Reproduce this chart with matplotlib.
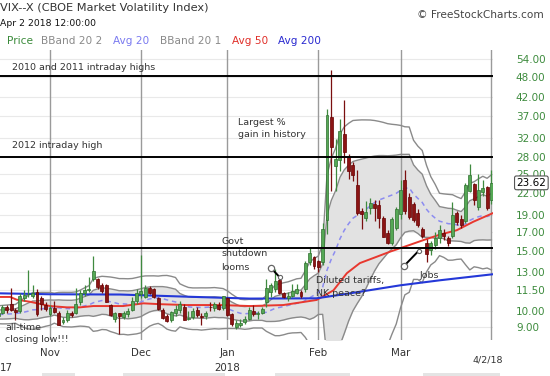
import numpy as np
import pandas as pd
import matplotlib
matplotlib.use("Agg")
import matplotlib.pyplot as plt
from matplotlib.lines import Line2D
from matplotlib.ticker import NullLocator, FixedLocator, FixedFormatter
from matplotlib.transforms import blended_transform_factory

# ---------------- data ----------------
holidays = ["2017-11-23", "2017-12-25", "2018-01-01", "2018-01-15", "2018-02-19", "2018-03-30"]
dates = pd.bdate_range("2017-10-16", "2018-04-02")
dates = dates[~dates.isin(pd.to_datetime(holidays))]

open_ = [9.7, 9.9, 10.3, 10.5, 10.1, 10.0, 10.9, 11.2, 11.05, 11.4, 10.9, 10.4,
         9.8, 10.2, 9.9, 9.3, 9.4, 9.9, 9.9, 10.6, 11.3, 11.5, 12.4, 12.4, 11.9, 11.9, 10.4, 9.5,
         9.9, 9.6, 9.8, 10.1, 10.7,
         11.2, 11.0, 11.7, 11.6, 10.9, 10.1, 9.7, 9.4, 9.9, 10.1, 10.3, 9.5, 9.6, 10.1, 9.7, 9.7,
         10.3, 10.2, 10.4, 10.2,
         10.9, 9.8, 9.0, 9.1, 9.3, 9.5, 10.0, 9.8, 9.9, 10.6, 11.4, 11.6, 12.3, 11.3, 10.9, 11.1,
         11.3, 11.4, 11.6, 13.9, 14.4,
         14.0, 13.9, 18.4, 36.8, 26.5, 27.6, 32.8, 28.0, 26.6, 23.3, 19.5, 18.7, 20.0, 20.5, 20.3,
         18.7, 16.9, 15.8, 17.5,
         19.2, 24.0, 21.5, 20.5, 19.3, 17.3, 15.8, 15.1, 15.6, 16.3, 16.9, 16.3, 16.6, 19.3, 18.6,
         18.3, 22.4, 23.4, 20.1, 22.2, 23.0,
         21.0]
high = [10.1, 10.4, 10.4, 11.7, 10.2, 11.3, 11.5, 13.2, 11.9, 11.6, 11.1, 10.6,
        10.4, 10.7, 10.0, 9.6, 10.1, 10.0, 11.7, 11.5, 11.9, 12.6, 14.51, 12.5, 12.1, 12.0, 10.5, 9.95,
        9.9, 10.0, 10.2, 11.0, 11.6,
        14.58, 11.9, 11.8, 11.7, 11.0, 10.2, 9.8, 10.0, 10.4, 10.7, 10.5, 10.0, 10.2, 10.3, 9.9, 10.0,
        10.6, 10.6, 10.6, 11.1,
        11.0, 9.9, 9.4, 9.5, 9.7, 10.3, 10.4, 10.0, 10.3, 12.4, 12.1, 13.3, 12.4, 11.4, 11.4, 12.0,
        12.0, 11.5, 14.0, 15.3, 14.5,
        14.1, 18.0, 38.8, 50.3, 31.6, 36.2, 41.1, 28.7, 27.2, 25.8, 20.0, 20.9, 21.3, 21.0, 21.0,
        18.9, 17.2, 18.8, 20.1,
        24.1, 25.7, 22.0, 20.8, 19.8, 17.6, 16.2, 16.0, 17.0, 17.8, 17.3, 16.6, 20.8, 19.5, 19.0,
        23.6, 26.8, 23.6, 25.1, 24.1, 23.1,
        25.7]
low = [9.5, 9.8, 9.9, 10.0, 9.4, 9.9, 10.7, 11.0, 10.9, 9.7, 10.1, 10.0,
       9.7, 9.9, 9.1, 9.2, 9.3, 9.6, 9.8, 10.4, 11.1, 11.4, 12.2, 11.6, 11.3, 10.6, 9.7, 9.3,
       8.56, 9.5, 9.6, 10.0, 10.5,
       10.9, 10.9, 11.2, 10.9, 10.1, 9.5, 9.3, 9.3, 9.7, 9.9, 9.4, 9.4, 9.5, 9.6, 9.1, 9.5,
       10.0, 10.0, 10.1, 10.1,
       9.7, 9.05, 8.9, 9.0, 9.2, 9.4, 9.7, 9.5, 9.8, 10.3, 11.0, 11.4, 11.2, 10.9, 10.7, 11.0,
       11.2, 10.9, 11.4, 13.6, 13.3,
       13.0, 13.6, 16.8, 22.4, 22.4, 25.5, 27.0, 24.2, 23.9, 19.0, 17.3, 18.3, 19.2, 18.3, 17.4,
       16.4, 15.7, 15.6, 17.2,
       18.5, 19.2, 18.5, 18.2, 17.6, 16.3, 13.9, 14.6, 15.2, 15.8, 16.1, 15.5, 16.3, 17.8, 17.5,
       18.1, 22.2, 20.3, 19.7, 21.6, 19.7,
       20.5]
close = [9.91, 10.31, 10.07, 10.05, 9.97, 11.07, 11.16, 11.23, 11.30, 9.80, 10.50, 10.18,
         10.20, 9.93, 9.14, 9.40, 9.89, 9.78, 10.50, 11.29, 11.50, 11.59, 13.13, 11.76, 11.43, 10.65, 9.73, 9.88,
         9.67, 9.87, 10.03, 10.70, 11.28,
         11.43, 11.68, 11.33, 11.02, 10.16, 9.58, 9.34, 9.92, 10.18, 10.49, 9.42, 9.53, 10.03, 9.72, 9.62, 9.90,
         10.25, 10.47, 10.18, 11.04,
         9.77, 9.15, 9.22, 9.22, 9.52, 10.08, 9.82, 9.88, 10.16, 11.66, 11.91, 12.22, 11.27, 11.03, 11.10, 11.47,
         11.58, 11.08, 13.84, 14.79, 13.54,
         13.47, 17.31, 37.32, 29.98, 27.73, 33.46, 29.06, 25.61, 24.97, 19.26, 19.13, 19.46, 20.60, 20.02, 18.72,
         16.49, 15.80, 18.59, 19.85,
         22.47, 19.59, 18.73, 18.36, 17.76, 16.54, 14.64, 15.78, 16.35, 17.23, 16.59, 15.80, 19.02, 18.20, 17.86,
         23.34, 24.87, 21.03, 22.50, 22.87, 19.97,
         23.62]
# closes of the 19 sessions before the first shown day (for the 20-day indicators)
prior_close = [10.18, 9.78, 9.67, 9.59, 10.21, 10.17, 9.87, 9.55, 9.51, 9.45,
               9.51, 9.63, 9.19, 9.65, 10.33, 10.08, 9.85, 9.91, 9.61]

# Avg 50 and Avg 200 (session index, value)
ma50_idx = [0.45, 2.8, 4.3, 7.4, 12, 15.9, 18.9, 22, 25.1, 28.9, 33.6, 37.4, 43.6, 51.3, 58.2,
            65.9, 73.6, 77.5, 80.6, 83.6, 87.5, 90.6, 95.2, 98.3, 102.1, 106, 109.8, 114.4]
ma50_val = [11.0, 11.0, 10.8, 10.65, 10.35, 10.26, 10.26, 10.35, 10.35, 10.35, 10.54, 10.48, 10.42,
            10.42, 10.35, 10.42, 10.78, 11.5, 12.9, 13.8, 14.4, 14.9, 15.6, 16.1, 16.7, 17.2, 18.2, 19.3]
ma200_idx = [0.45, 12, 28.2, 43.6, 58.2, 73.6, 81.3, 92.9, 102.1, 114.4]
ma200_val = [11.27, 11.2, 11.18, 11.02, 10.88, 10.9, 11.27, 11.89, 12.3, 12.81]

# reference levels
level_vals = [48.2, 28.0, 15.3]

y_ticks = [9, 10, 11.5, 13, 15, 17, 19, 22, 25, 28, 32, 37, 42, 48, 54]
month_names = ["Nov", "Dec", "Jan", "Feb", "Mar"]
last_price = 23.62

# ---------------- figure ----------------
W, H = 550, 376
fig = plt.figure(figsize=(W / 100, H / 100), dpi=100)
ax = fig.add_axes([0, 36 / H, 493 / W, 290 / H])

def fx(px):
    return px / W

def fy(py):
    return 1 - py / H

x = np.arange(len(dates))
o = np.array(open_); h = np.array(high); l = np.array(low); c = np.array(close)

ax.set_yscale("log")
ax.set_ylim(8.245, 57.5)
ax.set_xlim(0.447, 114.36)

# grid
for t in y_ticks:
    ax.axhline(t, color="#e9e9e9", lw=0.8, zorder=0.5)

# month separators (first session of each month) + last session
month_starts = [i for i in range(1, len(dates)) if dates[i].month != dates[i - 1].month]
sep_idx = sorted(set(month_starts + [len(dates) - 1]))
for i in sep_idx:
    ax.axvline(i, color="#9a9a9a", lw=1.0, zorder=1.5)

# 20-day indicators
s = pd.Series(np.concatenate([prior_close, c]))
n0 = len(prior_close)
m20 = s.rolling(20).mean().values[n0:]
sd20 = s.rolling(20).std(ddof=0).values[n0:]
up1, lo1 = m20 + sd20, m20 - sd20
up2, lo2 = m20 + 2 * sd20, m20 - 2 * sd20
lo1c = np.where(lo1 > 0.5, lo1, 0.5)
lo2c = np.where(lo2 > 0.5, lo2, 0.5)

ax.fill_between(x, lo1c, up1, color="#e2e2e2", lw=0, zorder=1)
for band in (up1, lo1c, up2, lo2c):
    ax.plot(x, band, color="#8a8a8a", lw=1.0, zorder=2)
ax.plot(x, m20, color="#8c8cf0", lw=1.1, ls=(0, (3, 2.5)), zorder=3)
ax.plot(ma50_idx, ma50_val, color="#e8382f", lw=1.4, zorder=3)
ax.plot(ma200_idx, ma200_val, color="#2438d8", lw=1.5, zorder=3)

# candles
up = c >= o
wick_col = np.where(up, "#3f8a3f", "#7a0f0f")
ax.vlines(x, l, h, colors=wick_col, lw=0.9, zorder=4)
ax.bar(x, np.maximum(np.abs(c - o), 0.02), bottom=np.minimum(o, c), width=0.68,
       color=np.where(up, "#55a855", "#8b1414"),
       edgecolor=np.where(up, "#2f6f2f", "#660000"), lw=0.5, zorder=5)

# reference levels
for v in level_vals:
    ax.axhline(v, color="black", lw=1.4, zorder=6)

for sp in ax.spines.values():
    sp.set_visible(False)

# y ticks at right
ax.yaxis.tick_right()
ax.yaxis.set_major_locator(FixedLocator(y_ticks))
ax.yaxis.set_major_formatter(FixedFormatter([f"{t:.2f}" for t in y_ticks]))
ax.yaxis.set_minor_locator(NullLocator())
ax.tick_params(axis="y", which="both", length=0, pad=16.5, labelsize=7.5, labelcolor="#3d8b3d")
ax.set_xticks([])

ax.text(1.0475, last_price, f"{last_price:.2f}", transform=blended_transform_factory(ax.transAxes, ax.transData),
        ha="left", va="center", fontsize=7.5, color="black", zorder=20, clip_on=False,
        bbox=dict(boxstyle="round,pad=0.18", fc="white", ec="#555555", lw=0.8))

# x labels
tb = blended_transform_factory(ax.transData, ax.transAxes)
for i, name in zip(month_starts[:len(month_names)], month_names):
    ax.text(i, -0.045, name, transform=tb, ha="center", va="center",
            fontsize=7.4, color="#333333", clip_on=False)
ax.text(month_starts[2], -0.097, "2018", transform=tb, ha="center", va="center",
        fontsize=7.4, color="#333333", clip_on=False)
fig.text(fx(0), fy(368), "17", ha="left", va="center", fontsize=7.4, color="#333333")
fig.text(fx(488), fy(360), "4/2/18", ha="center", va="center", fontsize=6.8, color="#333333")

# faint scrollbar strips at the very bottom
for (a, b) in [(42, 75), (123, 225), (275, 350), (423, 500)]:
    fig.add_artist(plt.Rectangle((fx(a), 0), fx(b) - fx(a), 3 / H, transform=fig.transFigure,
                                 color="#e4e4e4", lw=0))

# header
fig.text(fx(0), fy(8), "VIX--X (CBOE Market Volatility Index)", fontsize=8.2, color="#333333", va="center")
fig.text(fx(0), fy(23), "Apr 2 2018 12:00:00", fontsize=6.7, color="#111111", va="center")
fig.text(fx(417), fy(15), "\u00a9 FreeStockCharts.com", fontsize=7.6, color="#444444", va="center")
legend_items = [("Price", 7, "#3a8a3a"), ("BBand 20 2", 41, "#8a8a8a"), ("Avg 20", 113, "#7a7af0"),
                ("BBand 20 1", 160, "#8a8a8a"), ("Avg 50", 232, "#e0302a"), ("Avg 200", 278, "#2a2ad0")]
for txt, px, col in legend_items:
    fig.text(fx(px), fy(41), txt, fontsize=7.6, color=col, va="center")

# annotations
ann = dict(fontsize=6.8, color="#333333", va="center", ha="left")
fig.text(fx(12), fy(68), "2010 and 2011 intraday highs", **ann)
fig.text(fx(12), fy(146), "2012 intraday high", **ann)
fig.text(fx(238), fy(122), "Largest %", **ann)
fig.text(fx(238), fy(134), "gain in history", **ann)
fig.text(fx(221), fy(242), "Govt", **ann)
fig.text(fx(221), fy(254), "shutdown", **ann)
fig.text(fx(221), fy(267), "looms", **ann)
fig.text(fx(316), fy(281), "Diluted tariffs,", **ann)
fig.text(fx(316), fy(294), "NK peace?", **ann)
fig.text(fx(420), fy(275), "Jobs", **ann)
fig.text(fx(5), fy(327), "all-time", **ann)
fig.text(fx(5), fy(340), "closing low!!!", **ann)

for (x0, y0, x1, y1) in [(271, 268, 279.5, 277), (404, 266, 418.5, 251)]:
    fig.add_artist(Line2D([fx(x0), fx(x1)], [fy(y0), fy(y1)], transform=fig.transFigure,
                          color="black", lw=1.4, zorder=30))
    fig.add_artist(Line2D([fx(x0)], [fy(y0)], transform=fig.transFigure, marker="o", ms=4.5,
                          mfc="white", mec="#666666", mew=0.9, zorder=31))
    fig.add_artist(Line2D([fx(x1)], [fy(y1)], transform=fig.transFigure, marker="o", ms=3,
                          mfc="white", mec="#666666", mew=0.8, zorder=31))

fig.savefig("out.png", dpi=100)
